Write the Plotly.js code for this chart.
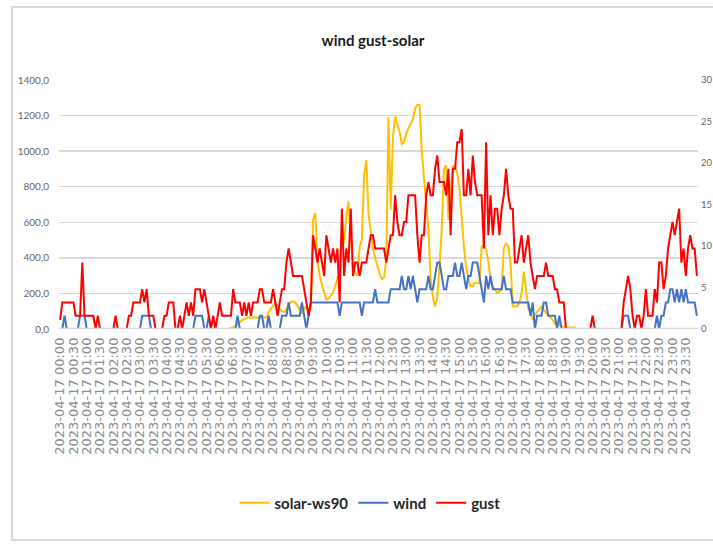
<!DOCTYPE html>
<html>
<head>
<meta charset="utf-8">
<script src="https://cdn.plot.ly/plotly-3.0.1.min.js"></script>
<style>
  html, body { margin:0; padding:0; width:713px; height:545px; overflow:hidden; background:#ffffff; }
  #frame { position:absolute; left:11px; top:6px; width:800px; height:531px; border:2px solid #d9d9d9; border-right:none; }
  #chart { position:absolute; left:0; top:0; width:740px; height:545px; }
</style>
</head>
<body>
<div id="frame"></div>
<div id="chart"></div>
<script>
// ---- categories: 5-minute timestamps of 2023-04-17 ----
const day = "2023-04-17";
const times = [];
for (let h = 0; h < 24; h++) {
  for (let m = 0; m < 60; m += 5) {
    times.push(day + " " + String(h).padStart(2, "0") + ":" + String(m).padStart(2, "0"));
  }
}
// tick labels every 30 minutes
const tickLabels = times.filter((t, i) => i % 6 === 0);

// ---- series ----
// solar-ws90 (left axis)
const solar = [
  0,0,0,0,0,0,0,0,0,0, 0,0,0,0,0,0,0,0,0,0,
  0,0,0,0,0,0,0,0,0,0, 0,0,0,0,0,0,0,0,0,0,
  0,0,0,0,0,0,0,0,0,0, 0,0,0,0,0,0,0,0,0,0,
  0,0,0,0,0,0,0,0,0,0, 0,0,0,0,0,0,0,5,10,15,
  25,40,50,55,60,65,65,65,65,65, 65,65,65,65,95,110,130,155,130,110,
  100,95,110,130,155,155,150,130,110,90, 110,130,100,110,614,652,390,296,250,202,
  165,170,190,205,240,290,330,560,480,640, 720,500,380,310,300,460,500,860,950,650,
  550,450,400,350,310,280,290,390,1190,670, 1080,1195,1150,1110,1040,1050,1100,1130,1160,1180,
  1240,1260,1260,1000,850,700,560,280,180,127, 174,352,560,900,920,614,783,914,914,876,
  790,595,464,350,277,240,240,258,258,258, 464,474,446,380,277,240,221,202,210,221,
  455,483,464,371,127,127,127,146,200,324, 202,120,90,52,80,95,109,127,110,90,
  80,65,52,30,24,24,15,12,8,8, 8,8,8,0,0,0,0,0,0,0,
  0,0,0,0,0,0,0,0,0,0, 0,0,0,0,0,0,0,0,0,0,
  0,0,0,0,0,0,0,0,0,0, 0,0,0,0,0,0,0,0,0,0,
  0,0,0,0,0,0,0,0
];
// wind (right axis)
const wind = [
  0,0,1.6,0,0,0,0,0,0,1.6, 1.6,1.6,0,0,0,0,0,0,0,0,
  0,0,0,0,0,0,0,0,0,0, 0,0,0,0,0,0,0,1.6,1.6,1.6,
  1.6,0,0,0,0,0,0,0,0,0, 0,0,0,0,0,0,0,0,0,0,
  0,1.6,1.6,1.6,1.6,0,0,1.6,0,0, 0,0,0,0,0,0,0,0,0,0,
  1.6,0,0,0,0,0,0,0,0,0, 1.6,1.6,0,0,1.6,0,0,0,0,0,
  1.6,1.6,1.6,3.2,1.6,1.6,1.6,1.6,1.6,3.2, 1.6,0,1.6,3.2,3.2,3.2,3.2,3.2,3.2,3.2,
  3.2,3.2,3.2,3.2,3.2,3.2,1.6,3.2,3.2,3.2, 3.2,3.2,3.2,3.2,3.2,3.2,1.6,3.2,3.2,3.2,
  3.2,3.2,4.8,3.2,3.2,3.2,3.2,3.2,3.2,4.8, 4.8,4.8,4.8,4.8,6.4,4.8,4.8,6.4,4.8,6.4,
  4.8,3.2,4.8,4.8,4.8,4.8,6.4,4.8,4.8,6.4, 8.0,8.0,6.4,4.8,4.8,6.4,6.4,6.4,8.0,6.4,
  6.4,8.0,6.4,4.8,6.4,6.4,8.0,8.0,8.0,6.4, 4.8,3.2,6.4,4.8,6.4,4.8,4.8,4.8,4.8,4.8,
  6.4,4.8,4.8,4.8,3.2,3.2,3.2,3.2,3.2,3.2, 3.2,3.2,1.6,3.2,0,1.6,1.6,1.6,3.2,3.2,
  1.6,1.6,1.6,1.6,0,1.6,0,0,0,0, 0,0,0,0,0,0,0,0,0,0,
  0,0,0,0,0,0,0,0,0,0, 0,0,0,0,1.6,1.6,1.6,0,0,0,
  0,0,0,0,0,0,0,0,0,1.6, 0,1.6,1.6,3.2,3.2,4.8,4.8,3.2,4.8,3.2,
  4.8,3.2,4.8,3.2,3.2,3.2,3.2,1.6
];
// gust (right axis)
const gust = [
  1.1,3.2,3.2,3.2,3.2,3.2,3.2,1.6,1.6,1.6, 8.0,1.6,1.6,1.6,1.6,1.6,0,1.6,0,0,
  0,0,0,0,0,1.6,0,0,0,0, 0,1.6,1.6,3.2,3.2,3.2,3.2,4.8,3.2,4.8,
  1.6,1.6,1.6,0,0,0,0,1.6,1.6,3.2, 3.2,3.2,0,0,1.6,0,1.6,3.2,1.6,3.2,
  1.6,4.8,4.8,4.8,3.2,4.8,3.2,1.6,0,1.6, 0,1.6,3.2,1.6,1.6,1.6,1.6,1.6,4.8,3.2,
  3.2,3.2,1.6,3.2,1.6,3.2,1.6,3.2,3.2,3.2, 4.8,4.8,3.2,3.2,3.2,3.2,4.8,3.2,1.6,3.2,
  4.8,4.8,8.0,9.7,8.0,6.4,6.4,6.4,6.4,6.4, 4.8,3.2,1.6,3.2,11.3,9.7,8.0,9.7,8.0,6.4,
  11.3,9.7,8.0,9.7,8.0,9.7,3.2,14.5,6.4,9.7, 8.0,14.5,6.4,8.0,8.0,6.4,8.0,8.0,8.0,9.7,
  11.3,11.3,9.7,9.7,9.7,9.7,9.7,8.0,9.7,11.3, 11.3,16.1,12.9,11.3,11.3,12.9,12.9,16.1,16.1,16.1,
  16.1,11.3,8.0,11.3,11.3,16.1,17.7,16.1,16.1,19.3, 20.9,17.7,17.7,17.7,16.1,19.3,11.3,19.3,19.3,22.5,
  22.5,24.1,16.1,16.1,19.3,16.1,20.9,17.7,16.1,16.1, 16.1,9.7,22.5,11.3,16.1,11.3,14.5,14.5,11.3,14.5,
  16.1,19.3,16.1,14.5,14.5,8.0,8.0,9.7,11.3,8.0, 9.7,11.3,8.0,6.4,4.8,6.4,6.4,6.4,6.4,8.0,
  6.4,6.4,6.4,4.8,4.8,3.2,3.2,3.2,0,0, 0,0,0,0,0,0,0,0,0,0,
  1.6,0,0,0,0,0,0,0,0,0, 0,0,0,0,3.2,4.8,6.4,4.8,1.6,0,
  1.6,1.6,0,1.6,4.8,1.6,1.6,1.6,4.8,3.2, 8.0,8.0,4.8,6.4,9.7,11.3,12.9,11.3,12.9,14.5,
  8.0,9.7,6.4,9.7,11.3,9.7,9.7,6.4
];
const seriesNames = ["solar-ws90", "wind", "gust"];
const seriesColors = ["#FFC000", "#4472C4", "#FF0000"];
const leftTicks = [0, 200, 400, 600, 800, 1000, 1200, 1400];
const rightTicks = [0, 5, 10, 15, 20, 25, 30];

const lineW = 2;
const traces = [
  { x: times, y: solar, name: seriesNames[0], type: "scatter", mode: "lines",
    line: { color: seriesColors[0], width: lineW }, yaxis: "y" },
  { x: times, y: wind, name: seriesNames[1], type: "scatter", mode: "lines",
    line: { color: seriesColors[1], width: lineW }, yaxis: "y2" },
  { x: times, y: gust, name: seriesNames[2], type: "scatter", mode: "lines",
    line: { color: seriesColors[2], width: lineW }, yaxis: "y2" }
];

const tickFont = { family: "Lato, 'DejaVu Sans', sans-serif", size: 10, color: "#666666" };

const layout = {
  width: 740, height: 545,
  paper_bgcolor: "rgba(0,0,0,0)", plot_bgcolor: "#ffffff",
  margin: { l: 59, r: 42, t: 80, b: 216, pad: 0 },
  separators: ", ",
  showlegend: true,
  title: { text: "wind gust-solar", x: 373 / 740, xanchor: "center", xref: "container",
           y: 1 - 41 / 545, yref: "container", yanchor: "middle",
           font: { family: "Lato, sans-serif", size: 15, color: "#1a1a1a", weight: "bold" } },
  xaxis: {
    type: "category", categoryorder: "array", categoryarray: times,
    range: [-0.5, times.length - 0.5],
    tickmode: "array", tickvals: tickLabels, ticktext: tickLabels,
    tickangle: -90, ticks: "", showgrid: false, zeroline: false, showline: false,
    ticklabelstandoff: 5,
    tickfont: { family: "'DejaVu Sans', sans-serif", size: 13, color: "#8c8c8c" },
    automargin: false
  },
  yaxis: {
    range: [0, 1400], tickvals: leftTicks, tickformat: ".1f",
    showgrid: true, gridcolor: "#d9d9d9", gridwidth: 1.3, zeroline: false, showline: false,
    ticks: "", ticklabelstandoff: 9, tickfont: tickFont, automargin: false, fixedrange: true
  },
  yaxis2: {
    overlaying: "y", side: "right", range: [0, 30], tickvals: rightTicks,
    showgrid: false, zeroline: false, showline: false, ticks: "",
    ticklabelstandoff: 2, tickfont: { family: "Lato, 'DejaVu Sans', sans-serif", size: 9.5, color: "#666666" },
    automargin: false
  },
  shapes: [
    { type: "line", xref: "paper", x0: 0, x1: 1, yref: "y", y0: 0, y1: 0,
      line: { color: "#d9d9d9", width: 2.5 }, layer: "above" }
  ],
  legend: {
    orientation: "h", xref: "container", yref: "container",
    x: 370 / 740, xanchor: "center", y: 1 - 503 / 545, yanchor: "middle",
    font: { family: "Lato, sans-serif", size: 15, color: "#262626", weight: "bold" },
    bgcolor: "rgba(0,0,0,0)", traceorder: "normal"
  },
  hovermode: false
};

Plotly.newPlot("chart", traces, layout, { staticPlot: true, displayModeBar: false });
</script>
</body>
</html>
